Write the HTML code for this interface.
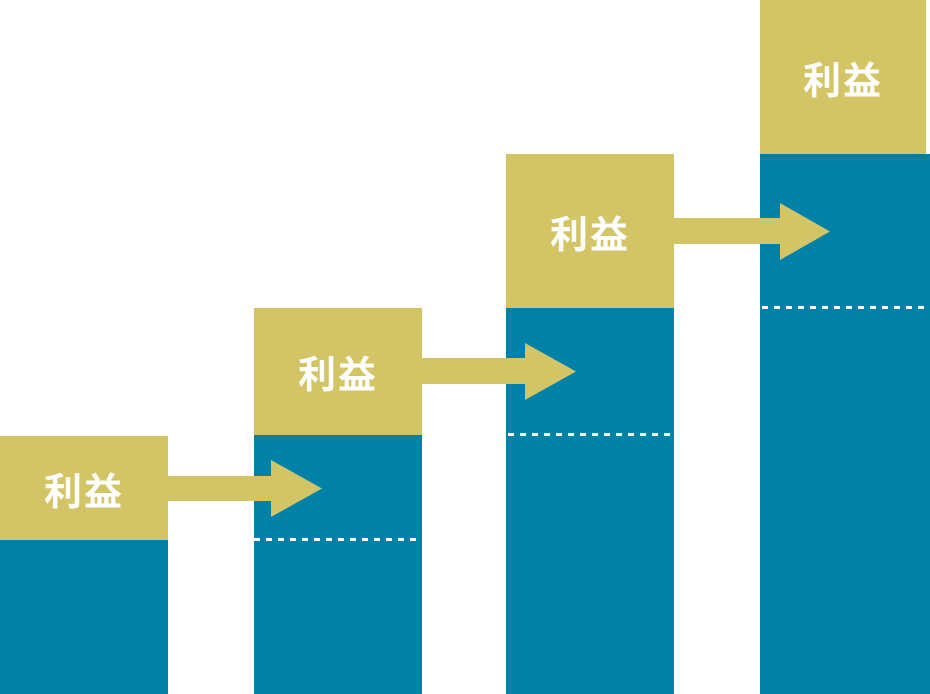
<!DOCTYPE html>
<html><head><meta charset="utf-8"><style>
html,body{margin:0;padding:0;background:#fff;}
body{width:930px;height:694px;position:relative;overflow:hidden;font-family:"Liberation Sans","Noto Sans CJK JP",sans-serif;}
.r{position:absolute;}
.g{background:#D3C566;color:#fff;font-weight:bold;font-size:38px;display:flex;align-items:center;justify-content:center;letter-spacing:2px;}
.b{background:#0081A8;}
</style></head><body>
<div class="r b" style="left:0;top:540px;width:168px;height:154px"></div>
<div class="r g" style="left:0;top:436px;width:168px;height:104px">利益</div>

<div class="r b" style="left:254px;top:435px;width:168px;height:259px"></div>
<div class="r g" style="left:254px;top:308px;width:168px;height:127px">利益</div>

<div class="r b" style="left:506px;top:308px;width:168px;height:386px"></div>
<div class="r g" style="left:506px;top:154px;width:168px;height:154px">利益</div>

<div class="r b" style="left:760px;top:154px;width:170px;height:540px"></div>
<div class="r g" style="left:760px;top:0;width:166px;height:154px">利益</div>

<svg class="r" style="left:0;top:0" width="930" height="694">
<g fill="#D3C566">
<polygon points="168,476 271,476 271,460 322,488.5 271,517 271,501 168,501"/>
<polygon points="422,358 525,358 525,343 576,371.5 525,400 525,384 422,384"/>
<polygon points="674,218 780,218 780,203 830,231.5 780,260 780,244 674,244"/>
</g>
<g stroke="#fff" stroke-width="3" stroke-dasharray="6,6">
<line x1="254" y1="539.5" x2="420" y2="539.5"/>
<line x1="508" y1="434.5" x2="674" y2="434.5"/>
<line x1="762" y1="307.5" x2="930" y2="307.5"/>
</g>
</svg>
</body></html>
